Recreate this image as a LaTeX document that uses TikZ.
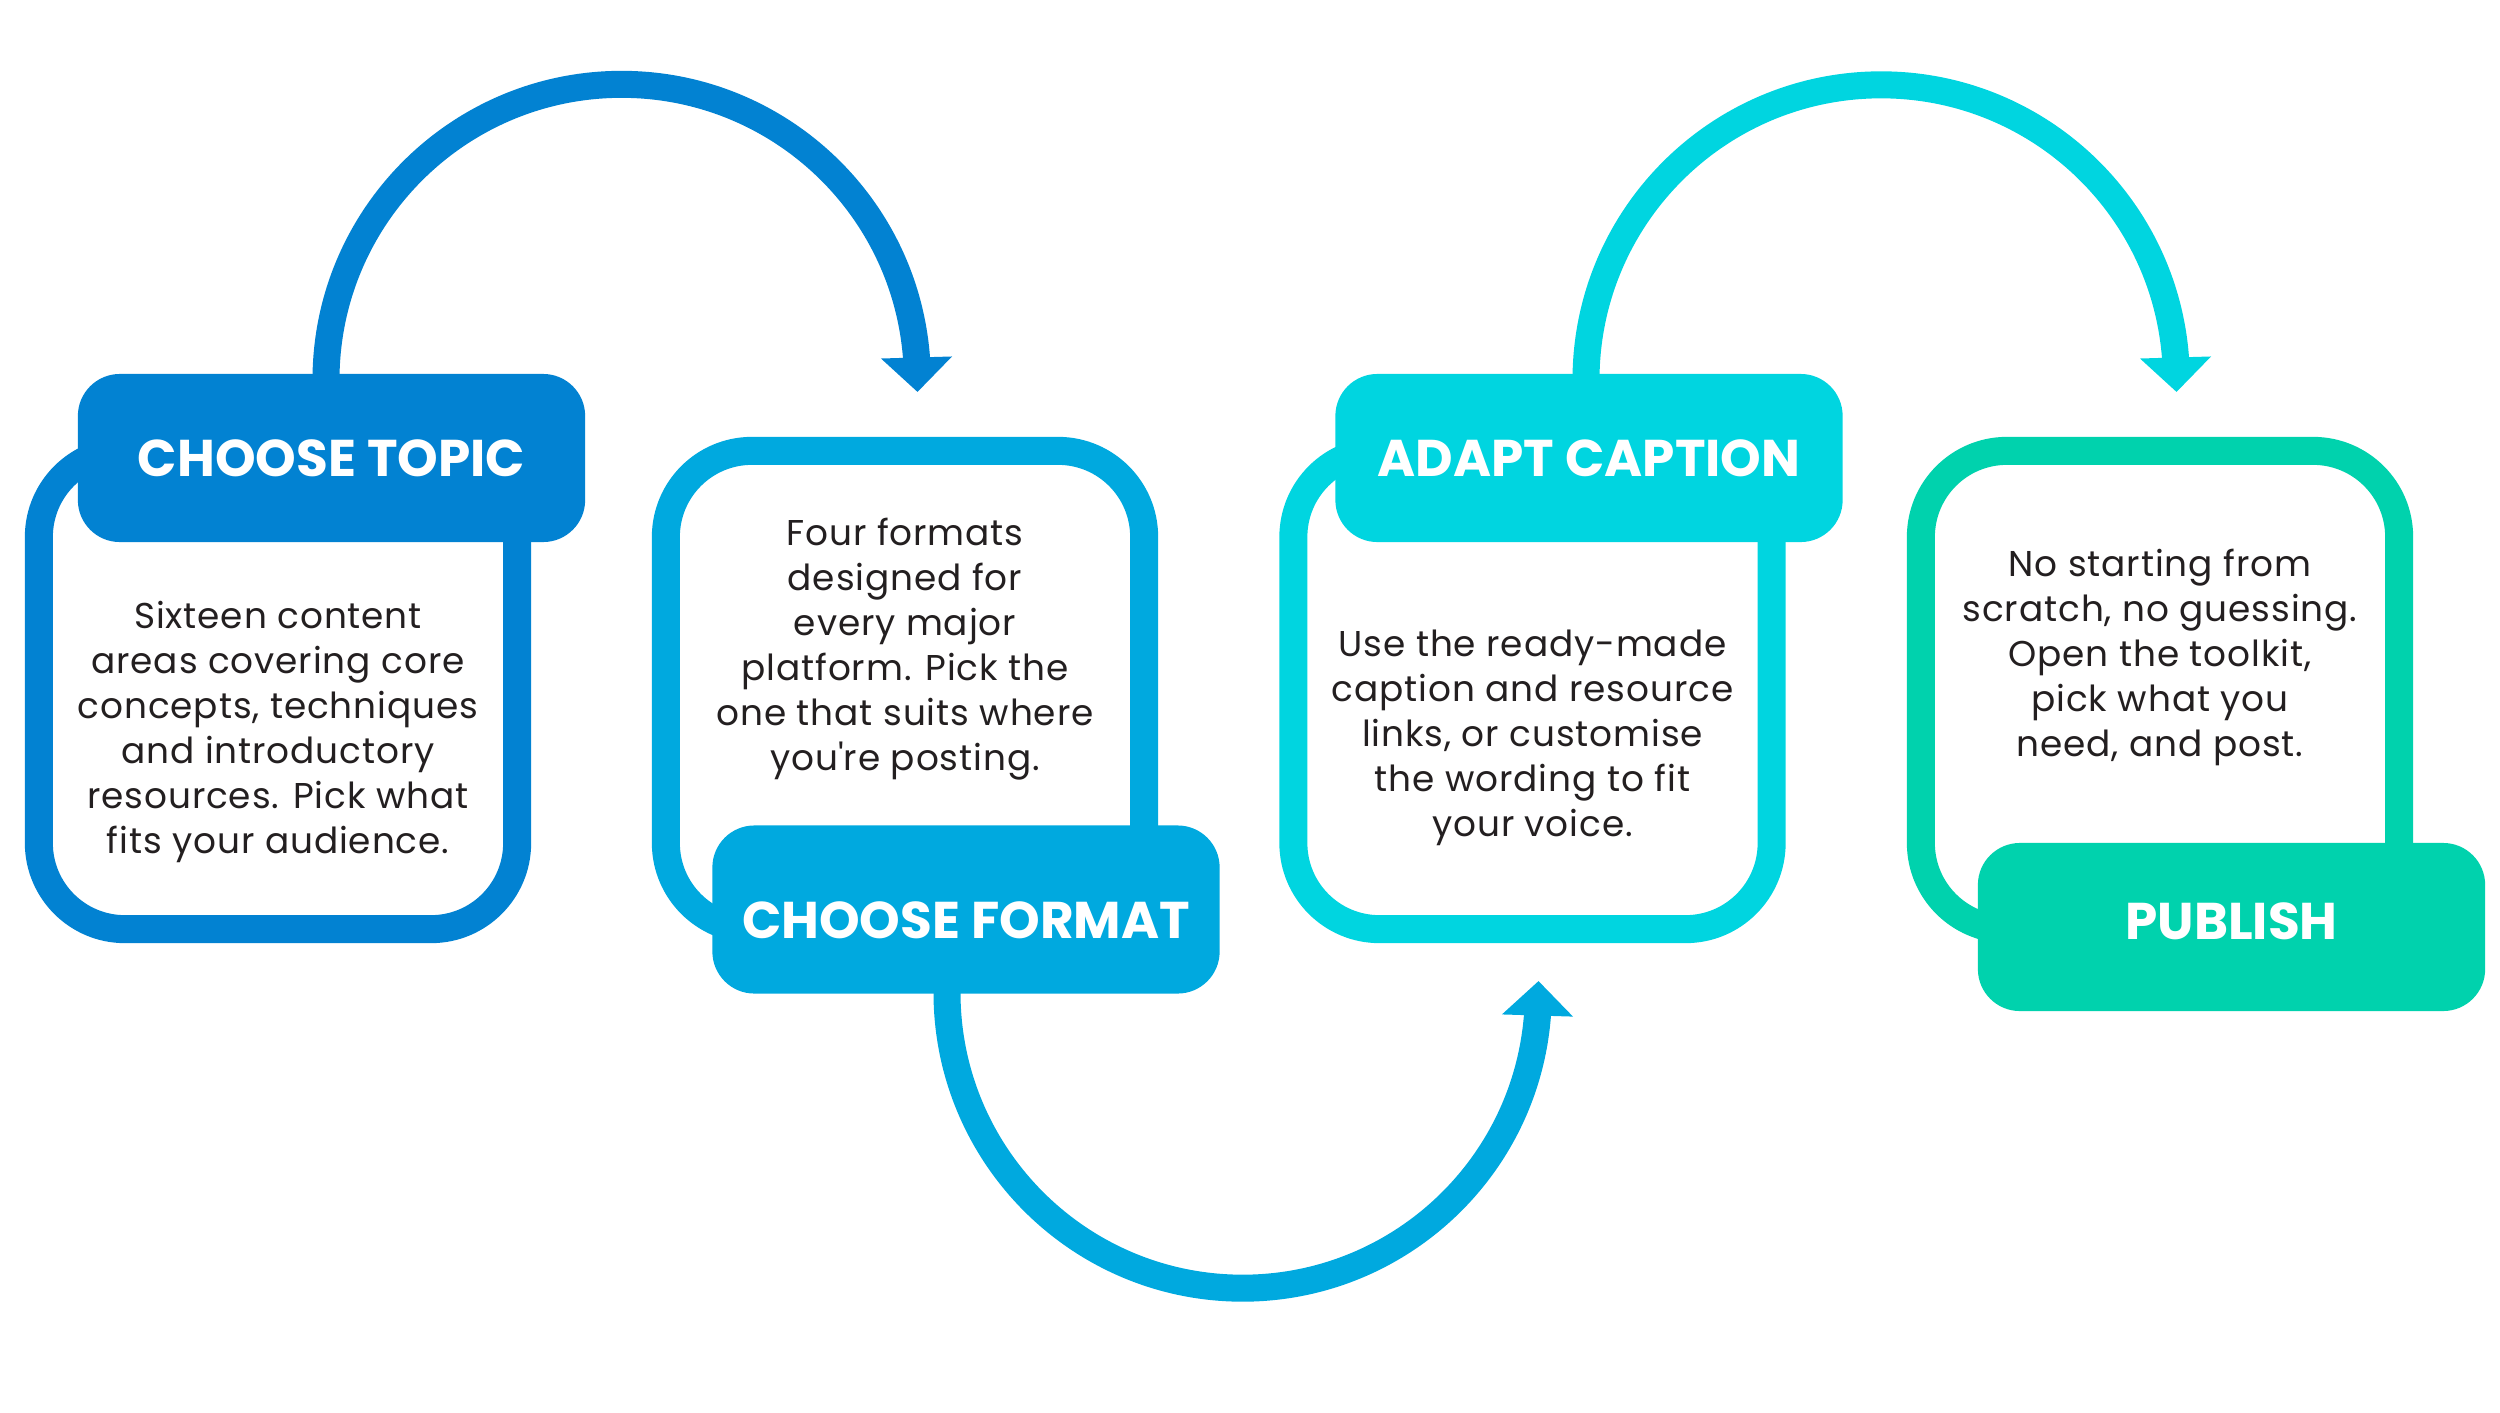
\documentclass[tikz,border=0pt]{standalone}
\usepackage{fontspec}
\setmainfont{Poppins}
\usetikzlibrary{arrows.meta}
\definecolor{topicblue}{RGB}{2,130,210}
\definecolor{formatblue}{RGB}{0,169,223}
\definecolor{captioncyan}{RGB}{0,213,224}
\definecolor{publishgreen}{RGB}{0,210,173}
\definecolor{bodyink}{RGB}{35,31,32}
\begin{document}
\begin{tikzpicture}[x=0.01cm, y=0.01cm,
    card/.style={draw=#1, line width=0.28cm, fill=white, rounded corners=0.86cm,
      minimum width=4.78cm, minimum height=4.78cm, inner sep=0pt},
    cardtitle/.style={fill=#1, rounded corners=0.42cm, minimum width=5.07cm,
      minimum height=1.68cm, inner sep=0pt, text=white,
      font=\fontsize{14.7pt}{17pt}\selectfont\bfseries,
      text height=0.36cm, text depth=0cm},
    cardtext/.style={align=center, text=bodyink, inner sep=0pt,
      font=\fontsize{10.2pt}{12.8pt}\selectfont\addfontfeature{LetterSpace=2.5}},
    hop/.style={draw=#1, line width=0.27cm,
      -{Triangle[width=0.69cm, length=0.345cm]}}]
  \useasboundingbox (0,0) rectangle (2500,-1412);
  % the four step cards
  \node[card=topicblue] (topicbox) at (278,-690) {};
  \node[card=formatblue] (formatbox) at (905,-690) {};
  \node[card=captioncyan] (captionbox) at (1532.5,-690) {};
  \node[card=publishgreen] (publishbox) at (2160,-690) {};
  % arcs from one step to the next
  \coordinate (topicout) at (326,-380);
  \coordinate (formatin) at (917.5,-392);
  \coordinate (formatout) at (947,-975);
  \coordinate (captionin) at (1538.5,-981);
  \coordinate (captionout) at (1586,-380);
  \coordinate (publishin) at (2176.5,-392);
  \draw[hop=topicblue] (topicout) arc[start angle=180, end angle=4.2, radius=2.955cm] -- (formatin);
  \draw[hop=formatblue] (formatout) -- ++(0,-17.5) arc[start angle=180, end angle=355.6, radius=2.955cm] -- (captionin);
  \draw[hop=captioncyan] (captionout) arc[start angle=180, end angle=4.2, radius=2.95cm] -- (publishin);
  % titles
  \node[cardtitle=topicblue] (topic) at (331.5,-458) {CHOOSE TOPIC};
  \node[cardtitle=formatblue, text height=0.58cm] (format) at (966,-909.5) {CHOOSE FORMAT};
  \node[cardtitle=captioncyan] (caption) at (1589,-458) {ADAPT CAPTION};
  \node[cardtitle=publishgreen, text depth=0.12cm] (publish) at (2231.5,-927) {PUBLISH};
  % texts
  \node[cardtext] (topictext) at (278,-732) {Sixteen content\\areas covering core\\concepts, techniques\\and introductory\\resources. Pick what\\fits your audience.};
  \node[cardtext] (formattext) at (905,-649) {Four formats\\designed for\\every major\\platform. Pick the\\one that suits where\\you\textquotesingle re posting.};
  \node[cardtext] (captiontext) at (1532.5,-737.5) {Use the ready-made\\caption and resource\\links, or customise\\the wording to fit\\your voice.};
  \node[cardtext] (publishtext) at (2160,-657) {No starting from\\scratch, no guessing.\\Open the toolkit,\\pick what you\\need, and post.};
\end{tikzpicture}
\end{document}
